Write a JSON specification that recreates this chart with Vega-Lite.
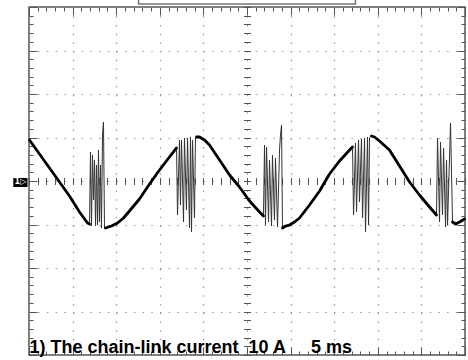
{
  "$schema": "https://vega.github.io/schema/vega-lite/v6.json",
  "width": 436,
  "height": 348,
  "autosize": {"type": "none"},
  "padding": {"left": 29, "top": 7, "right": 3, "bottom": 5},
  "background": "white",
  "config": {
    "view": {"stroke": "#555", "strokeWidth": 1.5},
    "axis": {"labels": false, "domain": false, "grid": false, "tickColor": "#555", "tickWidth": 1}
  },
  "datasets": {
    "wave": [
      {"t":0.06,"i":9.43,"k":"trace","s":1},{"t":1.20,"i":6.21,"k":"trace","s":1},{"t":2.35,"i":3.0,"k":"trace","s":1},{"t":3.50,"i":-0.23,"k":"trace","s":1},{"t":4.64,"i":-3.45,"k":"trace","s":1},{"t":5.79,"i":-7.13,"k":"trace","s":1},{"t":6.71,"i":-9.66,"k":"trace","s":1},{"t":6.94,"i":-9.89,"k":"trace","s":1},
      {"t":6.94,"i":-9.89,"k":"spike","s":1},{"t":7.05,"i":6.67,"k":"spike","s":1},{"t":7.17,"i":-10.35,"k":"spike","s":1},{"t":7.28,"i":5.98,"k":"spike","s":1},{"t":7.40,"i":-4.37,"k":"spike","s":1},{"t":7.51,"i":4.83,"k":"spike","s":1},{"t":7.63,"i":-10.35,"k":"spike","s":1},{"t":7.74,"i":3.68,"k":"spike","s":1},{"t":7.86,"i":-10.12,"k":"spike","s":1},{"t":7.97,"i":7.13,"k":"spike","s":1},{"t":8.08,"i":-9.43,"k":"spike","s":1},{"t":8.20,"i":3.68,"k":"spike","s":1},{"t":8.31,"i":-10.81,"k":"spike","s":1},{"t":8.43,"i":10.58,"k":"spike","s":1},{"t":8.54,"i":13.56,"k":"spike","s":1},{"t":8.66,"i":-10.81,"k":"spike","s":1},{"t":8.77,"i":-10.81,"k":"spike","s":1},
      {"t":8.77,"i":-10.81,"k":"trace","s":2},{"t":9.46,"i":-10.35,"k":"trace","s":2},{"t":10.15,"i":-9.66,"k":"trace","s":2},{"t":10.84,"i":-8.51,"k":"trace","s":2},{"t":11.52,"i":-6.90,"k":"trace","s":2},{"t":12.67,"i":-4.14,"k":"trace","s":2},{"t":13.82,"i":-0.69,"k":"trace","s":2},{"t":14.97,"i":2.53,"k":"trace","s":2},{"t":16.11,"i":5.52,"k":"trace","s":2},{"t":16.92,"i":7.59,"k":"trace","s":2},
      {"t":16.92,"i":7.59,"k":"spike","s":2},{"t":17.03,"i":-7.82,"k":"spike","s":2},{"t":17.26,"i":9.43,"k":"spike","s":2},{"t":17.37,"i":-5.52,"k":"spike","s":2},{"t":17.49,"i":9.43,"k":"spike","s":2},{"t":17.72,"i":-9.43,"k":"spike","s":2},{"t":17.83,"i":9.89,"k":"spike","s":2},{"t":18.06,"i":-6.67,"k":"spike","s":2},{"t":18.18,"i":9.89,"k":"spike","s":2},{"t":18.41,"i":-10.81,"k":"spike","s":2},{"t":18.52,"i":10.12,"k":"spike","s":2},{"t":18.64,"i":-11.72,"k":"spike","s":2},{"t":18.75,"i":9.43,"k":"spike","s":2},{"t":18.98,"i":-8.51,"k":"spike","s":2},{"t":19.09,"i":9.89,"k":"spike","s":2},{"t":19.21,"i":10.12,"k":"spike","s":2},
      {"t":19.21,"i":10.12,"k":"trace","s":3},{"t":19.55,"i":10.12,"k":"trace","s":3},{"t":20.13,"i":9.43,"k":"trace","s":3},{"t":20.70,"i":8.28,"k":"trace","s":3},{"t":21.85,"i":4.83,"k":"trace","s":3},{"t":23.00,"i":1.38,"k":"trace","s":3},{"t":24.14,"i":-1.38,"k":"trace","s":3},{"t":25.29,"i":-4.60,"k":"trace","s":3},{"t":26.44,"i":-7.13,"k":"trace","s":3},{"t":26.89,"i":-8.05,"k":"trace","s":3},
      {"t":26.89,"i":-8.05,"k":"spike","s":3},{"t":27.01,"i":8.28,"k":"spike","s":3},{"t":27.12,"i":-10.12,"k":"spike","s":3},{"t":27.24,"i":7.82,"k":"spike","s":3},{"t":27.47,"i":-9.43,"k":"spike","s":3},{"t":27.58,"i":4.83,"k":"spike","s":3},{"t":27.81,"i":-10.35,"k":"spike","s":3},{"t":27.92,"i":5.98,"k":"spike","s":3},{"t":28.15,"i":-8.97,"k":"spike","s":3},{"t":28.27,"i":5.29,"k":"spike","s":3},{"t":28.50,"i":-10.58,"k":"spike","s":3},{"t":28.73,"i":7.13,"k":"spike","s":3},{"t":28.84,"i":10.58,"k":"spike","s":3},{"t":28.96,"i":12.87,"k":"spike","s":3},{"t":29.07,"i":-10.81,"k":"spike","s":3},
      {"t":29.07,"i":-10.81,"k":"trace","s":4},{"t":29.42,"i":-10.35,"k":"trace","s":4},{"t":29.87,"i":-10.12,"k":"trace","s":4},{"t":30.45,"i":-9.43,"k":"trace","s":4},{"t":31.02,"i":-8.51,"k":"trace","s":4},{"t":32.17,"i":-5.52,"k":"trace","s":4},{"t":33.32,"i":-2.30,"k":"trace","s":4},{"t":34.46,"i":1.61,"k":"trace","s":4},{"t":35.61,"i":4.60,"k":"trace","s":4},{"t":36.76,"i":7.13,"k":"trace","s":4},{"t":37.10,"i":7.82,"k":"trace","s":4},
      {"t":37.10,"i":7.82,"k":"spike","s":4},{"t":37.22,"i":-7.82,"k":"spike","s":4},{"t":37.44,"i":8.74,"k":"spike","s":4},{"t":37.56,"i":-7.13,"k":"spike","s":4},{"t":37.79,"i":9.43,"k":"spike","s":4},{"t":37.90,"i":-4.83,"k":"spike","s":4},{"t":38.13,"i":9.66,"k":"spike","s":4},{"t":38.25,"i":-8.51,"k":"spike","s":4},{"t":38.48,"i":9.89,"k":"spike","s":4},{"t":38.59,"i":-11.72,"k":"spike","s":4},{"t":38.82,"i":10.12,"k":"spike","s":4},{"t":38.94,"i":-10.12,"k":"spike","s":4},{"t":39.05,"i":9.89,"k":"spike","s":4},{"t":39.28,"i":10.35,"k":"spike","s":4},
      {"t":39.28,"i":10.35,"k":"trace","s":5},{"t":39.62,"i":10.12,"k":"trace","s":5},{"t":40.19,"i":9.20,"k":"trace","s":5},{"t":41.34,"i":7.13,"k":"trace","s":5},{"t":42.49,"i":3.45,"k":"trace","s":5},{"t":43.64,"i":-0.23,"k":"trace","s":5},{"t":44.78,"i":-3.22,"k":"trace","s":5},{"t":45.93,"i":-5.98,"k":"trace","s":5},{"t":46.73,"i":-7.82,"k":"trace","s":5},
      {"t":46.73,"i":-7.82,"k":"spike","s":5},{"t":46.85,"i":9.89,"k":"spike","s":5},{"t":47.08,"i":-9.43,"k":"spike","s":5},{"t":47.19,"i":8.97,"k":"spike","s":5},{"t":47.42,"i":-7.82,"k":"spike","s":5},{"t":47.54,"i":7.59,"k":"spike","s":5},{"t":47.77,"i":-10.58,"k":"spike","s":5},{"t":47.88,"i":4.83,"k":"spike","s":5},{"t":48.00,"i":-10.12,"k":"spike","s":5},{"t":48.34,"i":13.33,"k":"spike","s":5},{"t":48.57,"i":-9.43,"k":"spike","s":5},
      {"t":48.57,"i":-9.43,"k":"trace","s":6},{"t":48.92,"i":-9.89,"k":"trace","s":6},{"t":49.38,"i":-9.43,"k":"trace","s":6},{"t":49.95,"i":-8.74,"k":"trace","s":6}
    ],
    "bar": [{"t0": 12.56, "t1": 37.44, "i0": 40.69, "i1": 42.6}],
    "marker": [{"t0": -1.8, "t1": -0.17, "i0": -1.38, "i1": 0.69, "tc": -0.98, "ic": -0.34, "label": "1▷"}],
    "caption": [{"t": 0.06, "i": -39.45, "label": "1) The chain-link current\u00a0\u00a010 A\u00a0\u00a0\u00a0\u00a0\u00a05 ms"}]
  },
  "resolve": {"axis": {"x": "independent", "y": "independent"}},
  "layer": [
    {
      "data": {"name": "bar"},
      "mark": {"type": "rect", "fill": "white", "stroke": "#777", "strokeWidth": 1.5},
      "encoding": {
        "x": {"field": "t0", "type": "quantitative", "scale": {"domain": [0, 50], "nice": false, "zero": false},
              "axis": {"orient": "bottom", "title": null, "values": [0,5,10,15,20,25,30,35,40,45,50], "tickSize": 8, "offset": -8, "grid": true, "gridDash": [1.5, 7.22], "gridColor": "#999", "gridWidth": 1.2}},
        "x2": {"field": "t1"},
        "y": {"field": "i0", "type": "quantitative", "scale": {"domain": [-40, 40], "nice": false, "zero": false},
              "axis": {"orient": "left", "title": null, "values": [-40,-30,-20,-10,0,10,20,30,40], "tickSize": 8, "offset": -8, "grid": true, "gridDash": [1.5, 7.2], "gridColor": "#999", "gridWidth": 1.2}},
        "y2": {"field": "i1"}
      }
    },
    {
      "mark": {"type": "rule", "color": "#555", "strokeWidth": 1},
      "encoding": {"x": {"datum": 25, "type": "quantitative", "axis": null}}
    },
    {
      "mark": {"type": "rule", "color": "#555", "strokeWidth": 1},
      "encoding": {"y": {"datum": 0, "type": "quantitative", "axis": null}}
    },
    {
      "data": {"name": "wave"},
      "transform": [{"filter": "datum.k === 'spike'"}],
      "mark": {"type": "line", "color": "#333", "strokeWidth": 1},
      "encoding": {
        "x": {"field": "t", "type": "quantitative", "scale": {"domain": [0, 50], "nice": false, "zero": false},
              "axis": {"orient": "top", "title": null, "values": [0,1,2,3,4,5,6,7,8,9,10,11,12,13,14,15,16,17,18,19,20,21,22,23,24,25,26,27,28,29,30,31,32,33,34,35,36,37,38,39,40,41,42,43,44,45,46,47,48,49,50], "tickSize": 4, "offset": -4}},
        "y": {"field": "i", "type": "quantitative", "scale": {"domain": [-40, 40], "nice": false, "zero": false},
              "axis": {"orient": "right", "title": null, "values": [-40,-38,-36,-34,-32,-30,-28,-26,-24,-22,-20,-18,-16,-14,-12,-10,-8,-6,-4,-2,0,2,4,6,8,10,12,14,16,18,20,22,24,26,28,30,32,34,36,38,40], "tickSize": 4, "offset": -4}},
        "detail": {"field": "s", "type": "nominal"},
        "order": {"field": "t", "type": "quantitative"}
      }
    },
    {
      "data": {"name": "wave"},
      "transform": [{"filter": "datum.k === 'trace'"}],
      "mark": {"type": "line", "color": "black", "strokeWidth": 2.8, "strokeJoin": "round", "strokeCap": "round"},
      "encoding": {
        "x": {"field": "t", "type": "quantitative", "scale": {"domain": [0, 50], "nice": false, "zero": false},
              "axis": {"orient": "bottom", "title": null, "values": [0,1,2,3,4,5,6,7,8,9,10,11,12,13,14,15,16,17,18,19,20,21,22,23,24,25,26,27,28,29,30,31,32,33,34,35,36,37,38,39,40,41,42,43,44,45,46,47,48,49,50], "tickSize": 4, "offset": -4}},
        "y": {"field": "i", "type": "quantitative", "scale": {"domain": [-40, 40], "nice": false, "zero": false},
              "axis": {"orient": "left", "title": null, "values": [-40,-38,-36,-34,-32,-30,-28,-26,-24,-22,-20,-18,-16,-14,-12,-10,-8,-6,-4,-2,0,2,4,6,8,10,12,14,16,18,20,22,24,26,28,30,32,34,36,38,40], "tickSize": 4, "offset": -4}},
        "detail": {"field": "s", "type": "nominal"},
        "order": {"field": "t", "type": "quantitative"}
      }
    },
    {
      "data": {"name": "caption"},
      "mark": {"type": "text", "align": "left", "baseline": "alphabetic", "font": "Liberation Sans", "fontWeight": "bold", "fontSize": 18, "color": "black"},
      "encoding": {
        "x": {"field": "t", "type": "quantitative", "scale": {"domain": [0, 50], "nice": false, "zero": false},
              "axis": {"orient": "top", "title": null, "values": [0,5,10,15,20,25,30,35,40,45,50], "tickSize": 8, "offset": -8}},
        "y": {"field": "i", "type": "quantitative", "scale": {"domain": [-40, 40], "nice": false, "zero": false},
              "axis": {"orient": "right", "title": null, "values": [-40,-30,-20,-10,0,10,20,30,40], "tickSize": 8, "offset": -8}},
        "text": {"field": "label"}
      }
    },
    {
      "data": {"name": "marker"},
      "mark": {"type": "rect", "fill": "black"},
      "encoding": {
        "x": {"field": "t0", "type": "quantitative", "scale": {"domain": [0, 50], "nice": false, "zero": false},
              "axis": {"orient": "bottom", "title": null, "values": [0,1,2,3,4,5,6,7,8,9,10,11,12,13,14,15,16,17,18,19,20,21,22,23,24,25,26,27,28,29,30,31,32,33,34,35,36,37,38,39,40,41,42,43,44,45,46,47,48,49,50], "tickSize": 7, "offset": -177.5}},
        "x2": {"field": "t1"},
        "y": {"field": "i0", "type": "quantitative", "scale": {"domain": [-40, 40], "nice": false, "zero": false},
              "axis": {"orient": "left", "title": null, "values": [-40,-38,-36,-34,-32,-30,-28,-26,-24,-22,-20,-18,-16,-14,-12,-10,-8,-6,-4,-2,0,2,4,6,8,10,12,14,16,18,20,22,24,26,28,30,32,34,36,38,40], "tickSize": 7, "offset": -221.5}},
        "y2": {"field": "i1"}
      }
    },
    {
      "data": {"name": "marker"},
      "mark": {"type": "text", "align": "center", "baseline": "middle", "font": "DejaVu Sans", "fontWeight": "bold", "fontSize": 8, "color": "white"},
      "encoding": {
        "x": {"field": "tc", "type": "quantitative", "axis": null},
        "y": {"field": "ic", "type": "quantitative", "axis": null},
        "text": {"field": "label"}
      }
    }
  ]
}
